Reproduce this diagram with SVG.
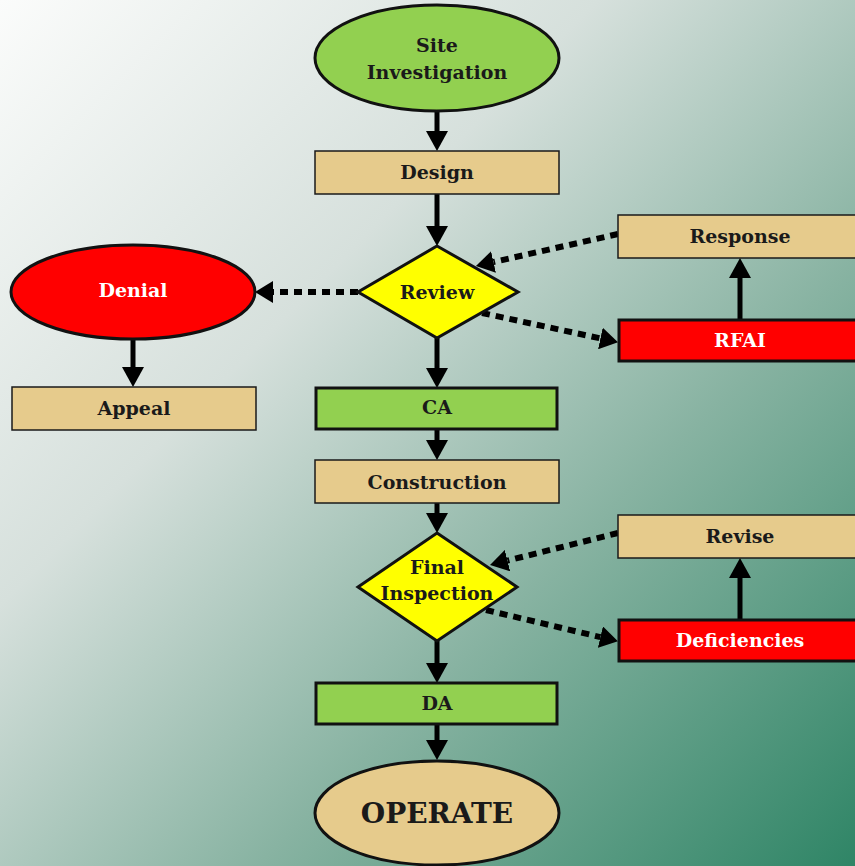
<svg xmlns="http://www.w3.org/2000/svg" width="855" height="866" viewBox="0 0 855 866">
<defs>
<linearGradient id="bg" x1="0" y1="0" x2="1" y2="1">
<stop offset="0" stop-color="#fbfcfb"/>
<stop offset="0.35" stop-color="#d6e0dc"/>
<stop offset="0.65" stop-color="#88b3a2"/>
<stop offset="1" stop-color="#2f8566"/>
</linearGradient>
<marker id="ah" markerUnits="userSpaceOnUse" markerWidth="20" markerHeight="22" refX="0" refY="11" orient="auto" viewBox="0 0 20 22">
<path d="M0,0 L20,11 L0,22 z" fill="#000"/>
</marker>
<marker id="ahd" markerUnits="userSpaceOnUse" markerWidth="18" markerHeight="22" refX="0" refY="11" orient="auto" viewBox="0 0 18 22">
<path d="M0,0 L18,11 L0,22 z" fill="#000"/>
</marker>
</defs>
<style>
.t{font-family:"DejaVu Serif","Liberation Serif",serif;font-weight:bold;font-size:19px;text-anchor:middle;fill:#1a1a1a}
.w{fill:#ffffff}
.tan{fill:#e6cb8c;stroke:#1a1a1a;stroke-width:1.5}
.grn{fill:#92d050;stroke:#111;stroke-width:3}
.red{fill:#ff0000;stroke:#111;stroke-width:3}
.yel{fill:#ffff00;stroke:#111;stroke-width:3}
.solid{stroke:#000;stroke-width:5;fill:none;marker-end:url(#ah)}
.dot{stroke:#000;stroke-width:6;stroke-dasharray:8 6;fill:none;marker-end:url(#ahd)}
</style>
<rect width="855" height="866" fill="url(#bg)"/>

<g id="connectors">
<line class="solid" x1="437" y1="111" x2="437" y2="131"/>
<line class="solid" x1="437" y1="194" x2="437" y2="226"/>
<line class="solid" x1="437" y1="338" x2="437" y2="368"/>
<line class="solid" x1="437" y1="429" x2="437" y2="440"/>
<line class="solid" x1="437" y1="503" x2="437" y2="513"/>
<line class="solid" x1="437" y1="641" x2="437" y2="663"/>
<line class="solid" x1="437" y1="724" x2="437" y2="740"/>
<line class="solid" x1="133" y1="339" x2="133" y2="367"/>
<line class="solid" x1="740" y1="320" x2="740" y2="278"/>
<line class="solid" x1="740" y1="620" x2="740" y2="578"/>
<line class="dot" x1="358" y1="292" x2="273" y2="292"/>
<line class="dot" x1="618" y1="234" x2="493.5" y2="262"/>
<line class="dot" x1="482" y1="313" x2="600.4" y2="338.4"/>
<line class="dot" x1="618" y1="533" x2="507.5" y2="560.6"/>
<line class="dot" x1="486" y1="610" x2="600.4" y2="637.1"/>
</g>

<g id="site-investigation">
<ellipse class="grn" cx="437" cy="58" rx="122" ry="53"/>
<text class="t" x="437" y="52">Site</text>
<text class="t" x="437" y="79">Investigation</text>
</g>
<g id="design">
<rect class="tan" x="315" y="151" width="244" height="43"/>
<text class="t" x="437" y="179">Design</text>
</g>
<g id="review">
<polygon class="yel" points="437,246 518,292 437,338 358,292"/>
<text class="t" x="437" y="299">Review</text>
</g>
<g id="denial">
<ellipse class="red" cx="133" cy="292" rx="122" ry="47"/>
<text class="t w" x="133" y="297">Denial</text>
</g>
<g id="appeal">
<rect class="tan" x="12" y="387" width="244" height="43"/>
<text class="t" x="134" y="415">Appeal</text>
</g>
<g id="response">
<rect class="tan" x="618" y="215" width="240" height="43"/>
<text class="t" x="740" y="243">Response</text>
</g>
<g id="rfai">
<rect class="red" x="619" y="320" width="240" height="41"/>
<text class="t w" x="740" y="347">RFAI</text>
</g>
<g id="ca">
<rect class="grn" x="316" y="388" width="241" height="41"/>
<text class="t" x="437" y="414">CA</text>
</g>
<g id="construction">
<rect class="tan" x="315" y="460" width="244" height="43"/>
<text class="t" x="437" y="489">Construction</text>
</g>
<g id="final-inspection">
<polygon class="yel" points="437,533 517,587 437,641 358,587"/>
<text class="t" x="437" y="574">Final</text>
<text class="t" x="437" y="600">Inspection</text>
</g>
<g id="revise">
<rect class="tan" x="618" y="515" width="240" height="43"/>
<text class="t" x="740" y="543">Revise</text>
</g>
<g id="deficiencies">
<rect class="red" x="619" y="620" width="240" height="41"/>
<text class="t w" x="740" y="647">Deficiencies</text>
</g>
<g id="da">
<rect class="grn" x="316" y="683" width="241" height="41"/>
<text class="t" x="437" y="710">DA</text>
</g>
<g id="operate">
<ellipse cx="437" cy="813" rx="122" ry="52" fill="#e6cb8c" stroke="#111" stroke-width="3"/>
<text class="t" x="437" y="823" style="font-size:28px">OPERATE</text>
</g>
</svg>
